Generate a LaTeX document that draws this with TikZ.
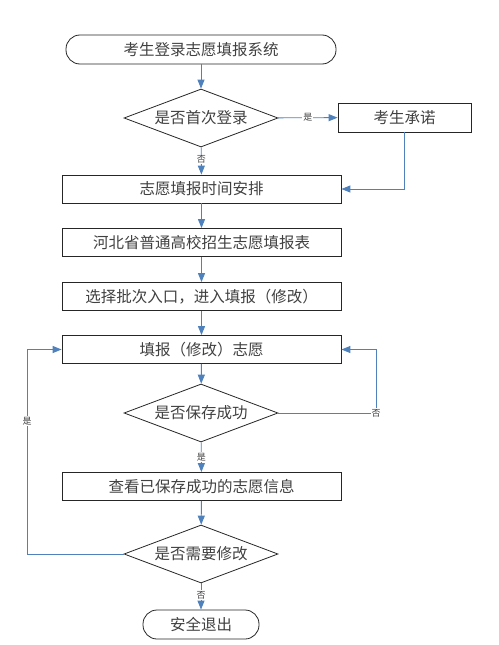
\documentclass[tikz,border=0pt]{standalone}
\usepackage{fontspec}
\setmainfont{Noto Sans CJK SC}
\usetikzlibrary{shapes.geometric,arrows.meta}
\definecolor{lineblue}{HTML}{4F81BD}
\definecolor{txt}{HTML}{404040}
\begin{document}
\begin{tikzpicture}[x=1pt,y=-1pt,
  every node/.style={text=txt,font=\fontsize{15.5}{17}\selectfont},
  proc/.style={draw=black!85,line width=0.8pt,minimum width=279pt,minimum height=28pt,inner sep=0pt},
  term/.style={draw=black!85,line width=0.8pt,rounded corners=14pt,minimum height=29pt,inner sep=0pt},
  dec/.style={draw=black!85,line width=0.8pt,diamond,aspect=2.65,minimum width=154pt,minimum height=58pt,inner sep=0pt},
  conn/.style={draw=lineblue,line width=0.9pt,-{Triangle[length=9pt,width=7pt]}},
  lab/.style={fill=white,inner sep=1pt,font=\fontsize{9}{10}\selectfont,text=txt}]
\useasboundingbox (0,0) rectangle (498,645);
\node[term,minimum width=270pt] (start) at (201,49.5) {考生登录志愿填报系统};
\node[dec] (d1) at (201,118) {是否首次登录};
\node[draw=black!85,line width=0.8pt,minimum width=133pt,minimum height=29pt,inner sep=0pt] (promise) at (404.5,117.5) {考生承诺};
\node[proc] (b1) at (201.5,189) {志愿填报时间安排};
\node[proc] (b2) at (201.5,242.5) {河北省普通高校招生志愿填报表};
\node[proc] (b3) at (201.5,296.5) {选择批次入口，进入填报（修改）};
\node[proc] (b4) at (201.5,349.5) {填报（修改）志愿};
\node[dec] (d2) at (201,413) {是否保存成功};
\node[proc] (b5) at (201.5,486.5) {查看已保存成功的志愿信息};
\node[dec] (d3) at (201,554) {是否需要修改};
\node[term,minimum width=116pt] (stop) at (201,624.5) {安全退出};
\coordinate (c1) at (promise.south |- b1.east);
\coordinate (c2a) at (376,413);
\coordinate (c2b) at (376,349.5);
\coordinate (c3a) at (27,554);
\coordinate (c3b) at (27,349.5);
\draw[conn] (start) -- (d1);
\draw[conn] (d1) -- node[lab]{是} (promise);
\draw[conn] (d1) -- node[lab,pos=0.45]{否} (b1);
\draw[conn] (promise.south) -- (c1) -- (b1.east);
\draw[conn] (b1) -- (b2);
\draw[conn] (b2) -- (b3);
\draw[conn] (b3) -- (b4);
\draw[conn] (b4) -- (d2);
\draw[conn] (d2) -- node[lab,pos=0.5]{是} (b5);
\draw[conn] (d2.east) -- (c2a) node[lab]{否} -- (c2b) -- (b4.east);
\draw[conn] (b5) -- (d3);
\draw[conn] (d3) -- node[lab,pos=0.45]{否} (stop);
\draw[conn] (d3.west) -- (c3a) -- node[lab,pos=0.65]{是} (c3b) -- (b4.west);
\end{tikzpicture}
\end{document}
